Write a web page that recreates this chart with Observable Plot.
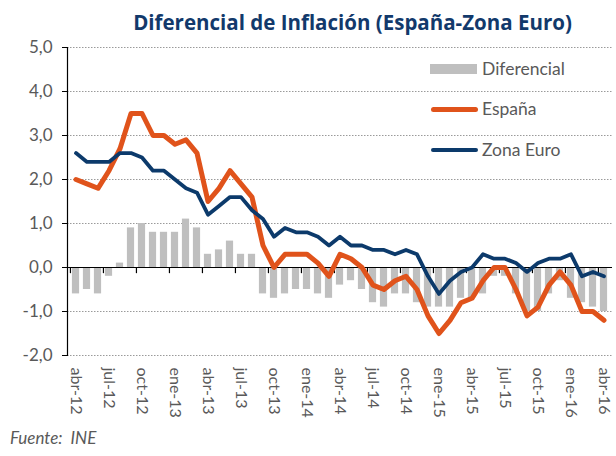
<!DOCTYPE html>
<html><head><meta charset="utf-8">
<script src="https://cdn.jsdelivr.net/npm/d3@7"></script>
<script src="https://cdn.jsdelivr.net/npm/@observablehq/plot@0.6"></script>
<style>
body{margin:0;background:#fff;}
#wrap{position:relative;width:616px;height:456px;font-family:Lato,sans-serif;overflow:hidden;}
#title{position:absolute;left:0;top:10px;width:616px;text-align:center;font-family:"Open Sans",sans-serif;font-weight:bold;font-size:20.5px;line-height:24px;color:#12396b;padding-left:89px;box-sizing:border-box;white-space:nowrap;}
.leg{position:absolute;font-size:17.5px;color:#595959;line-height:20px;white-space:nowrap;}
.sw{position:absolute;}
#src{position:absolute;left:10px;top:427px;font-size:17px;font-style:italic;color:#595959;}
#chart{position:absolute;left:0;top:0;}
</style></head>
<body><div id="wrap">
<div id="chart"></div>
<div id="title">Diferencial de Inflación (España-Zona Euro)</div>
<div class="sw" style="left:430px;top:64px;width:47px;height:10px;background:#bfbfbf"></div>
<div class="leg" style="left:482px;top:59px">Diferencial</div>
<div class="sw" style="left:431px;top:107px;width:47px;height:5px;border-radius:3px;background:#e0531b"></div>
<div class="leg" style="left:482px;top:99px">España</div>
<div class="sw" style="left:431px;top:148px;width:47px;height:4px;border-radius:2px;background:#0c3a6b"></div>
<div class="leg" style="left:482px;top:140px">Zona Euro</div>
<div id="src">Fuente:&nbsp; INE</div>
</div>
<script>
const meses = ["abr-12","may-12","jun-12","jul-12","ago-12","sep-12","oct-12","nov-12","dic-12",
"ene-13","feb-13","mar-13","abr-13","may-13","jun-13","jul-13","ago-13","sep-13","oct-13","nov-13","dic-13",
"ene-14","feb-14","mar-14","abr-14","may-14","jun-14","jul-14","ago-14","sep-14","oct-14","nov-14","dic-14",
"ene-15","feb-15","mar-15","abr-15","may-15","jun-15","jul-15","ago-15","sep-15","oct-15","nov-15","dic-15",
"ene-16","feb-16","mar-16","abr-16"];
const espana = [2.0,1.9,1.8,2.2,2.7,3.5,3.5,3.0,3.0,
2.8,2.9,2.6,1.5,1.8,2.2,1.9,1.6,0.5,0.0,0.3,0.3,
0.3,0.1,-0.2,0.3,0.2,0.0,-0.4,-0.5,-0.3,-0.2,-0.5,-1.1,
-1.5,-1.2,-0.8,-0.7,-0.3,0.0,0.0,-0.5,-1.1,-0.9,-0.4,-0.1,
-0.4,-1.0,-1.0,-1.2];
const zonaEuro = [2.6,2.4,2.4,2.4,2.6,2.6,2.5,2.2,2.2,
2.0,1.8,1.7,1.2,1.4,1.6,1.6,1.3,1.1,0.7,0.9,0.8,
0.8,0.7,0.5,0.7,0.5,0.5,0.4,0.4,0.3,0.4,0.3,-0.2,
-0.6,-0.3,-0.1,0.0,0.3,0.2,0.2,0.1,-0.1,0.1,0.2,0.2,
0.3,-0.2,-0.1,-0.2];
const diferencial = [-0.6,-0.5,-0.6,-0.2,0.1,0.9,1.0,0.8,0.8,
0.8,1.1,0.9,0.3,0.4,0.6,0.3,0.3,-0.6,-0.7,-0.6,-0.5,
-0.5,-0.6,-0.7,-0.4,-0.3,-0.5,-0.8,-0.9,-0.6,-0.6,-0.8,-0.9,
-0.9,-0.9,-0.7,-0.7,-0.6,-0.2,-0.2,-0.6,-1.0,-1.0,-0.6,-0.3,
-0.7,-0.8,-0.9,-1.0];
const yTicks = [-2,-1,0,1,2,3,4,5];
const xTickLabels = meses.filter((d,i)=>i%3===0);

const data = meses.map((m,i)=>({mes:m, espana:espana[i], zona:zonaEuro[i], dif:diferencial[i]}));
const W=616,H=456,mL=67,mR=4,mT=47,mB=101;
const bw=(W-mL-mR)/meses.length;
const fmt=d=>d.toFixed(1).replace(".",",");

const chart = Plot.plot({
  width:W,height:H,marginLeft:mL,marginRight:mR,marginTop:mT,marginBottom:mB,
  style:{fontFamily:"Lato, sans-serif",fontSize:"16px",color:"#595959",background:"transparent"},
  x:{type:"band",domain:meses,padding:0,label:null,axis:null},
  y:{domain:[-2,5],label:null,axis:null},
  marks:[
    Plot.gridY(yTicks,{stroke:"#9a9a9a",strokeOpacity:1,strokeDasharray:"1.5,1.5"}),
    Plot.barY(data,{x:"mes",y:"dif",fill:"#bfbfbf",insetLeft:1.9,insetRight:1.9}),
    Plot.ruleY([0],{stroke:"#000",strokeWidth:1.2}),
    Plot.ruleX(xTickLabels,{x:d=>d,y1:0,y2:-0.14,dx:-bw/2,stroke:"#000",strokeWidth:1.2}),
    Plot.frame({anchor:"left",stroke:"#000",strokeWidth:1.2}),
    Plot.axisY(yTicks,{tickSize:5,tickPadding:10,tickFormat:fmt,fontSize:17,fill:"#595959",stroke:"#000"}),
    Plot.axisX(xTickLabels,{anchor:"bottom",tickSize:0,tickPadding:12,tickRotate:90,fontSize:16,fill:"#595959"}),
    Plot.lineY(data,{x:"mes",y:"espana",stroke:"#e0531b",strokeWidth:5,strokeLinejoin:"round",strokeLinecap:"round"}),
    Plot.lineY(data,{x:"mes",y:"zona",stroke:"#0c3a6b",strokeWidth:3.8,strokeLinejoin:"round",strokeLinecap:"round"})
  ]
});
document.getElementById("chart").appendChild(chart);
</script>
</body></html>
